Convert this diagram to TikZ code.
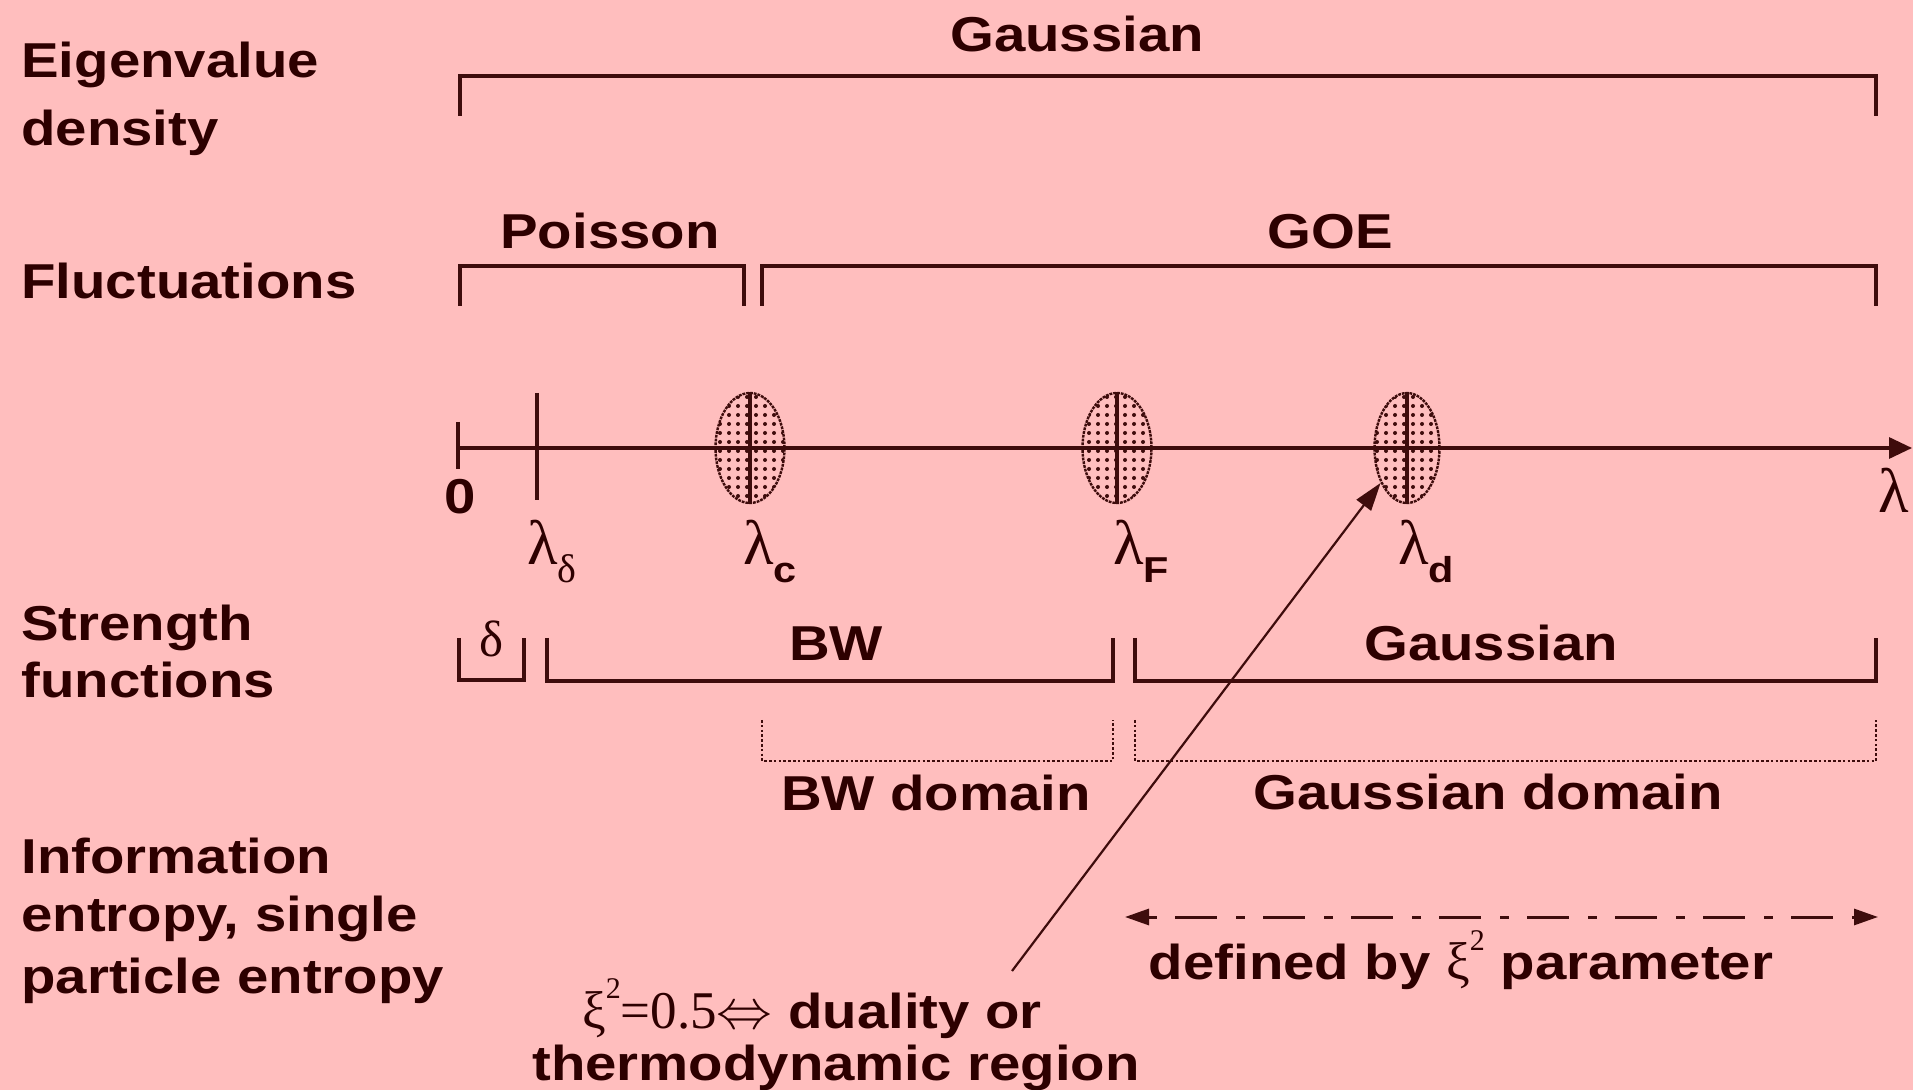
\documentclass[tikz,border=0pt]{standalone}
\usepackage{graphicx}
\usepackage{fontspec}
\setmainfont{Liberation Sans}
\newfontfamily\labfont{Liberation Sans}[FakeStretch=1.15]
\newfontfamily\grkfont{Liberation Serif}
\usetikzlibrary{arrows.meta,patterns.meta,shapes.geometric}
\definecolor{bgc}{RGB}{255,190,190}
\definecolor{lnc}{RGB}{62,12,12}
\definecolor{txc}{RGB}{45,0,0}
\newcommand\lamsym{{\grkfont\mdseries\fontsize{31.5}{34}\selectfont λ}}
\newcommand\subsf[1]{\raisebox{-9pt}{\labfont\bfseries\fontsize{18}{20}\selectfont #1}}
\begin{document}
\begin{tikzpicture}[x=0.5pt,y=-0.5pt,
  lab/.style={inner sep=0pt, text=txc, font=\labfont\bfseries\fontsize{24.5}{29}\selectfont},
  sym/.style={inner sep=0pt, text=txc},
  brk/.style={draw=lnc, line width=1.6pt, line join=miter},
  dbrk/.style={draw=lnc, line width=1.1pt, dash pattern=on 1.3pt off 1.1pt},
  ell/.style={ellipse, minimum width=34.5pt, minimum height=55pt, inner sep=0pt,
    draw=lnc, line width=1.2pt, dash pattern=on 1.4pt off 0.5pt,
    pattern={Dots[distance=4.5pt,radius=1pt]}, pattern color=lnc},
  cut/.style={draw=lnc, line width=1.6pt}
]
\fill[bgc] (0,0) rectangle (1913,1090);
\useasboundingbox (0,0) rectangle (1913,1090);

% left column
\node[lab, anchor=base west] (ev1) at (21,78) {Eigenvalue};
\node[lab, anchor=base west] (ev2) at (21,146) {density};
\node[lab, anchor=base west] (fl) at (21,299) {Fluctuations};
\node[lab, anchor=base west] (sf1) at (21,641) {Strength};
\node[lab, anchor=base west] (sf2) at (21,698) {functions};
\node[lab, anchor=base west] (ie1) at (21,873) {Information};
\node[lab, anchor=base west] (ie2) at (21,931) {entropy, single};
\node[lab, anchor=base west] (ie3) at (21,993) {particle entropy};

% brackets
\draw[brk] (460,116) -- (460,76) -- (1876,76) -- (1876,116);
\node[lab, anchor=base] (gaus) at (1077,52) {Gaussian};
\draw[brk] (460,306) -- (460,266) -- (744,266) -- (744,306);
\node[lab, anchor=base] (pois) at (610,249) {Poisson};
\draw[brk] (762,306) -- (762,266) -- (1876,266) -- (1876,306);
\node[lab, anchor=base] (goe) at (1330,249) {GOE};

\draw[brk] (459,638) -- (459,680) -- (524,680) -- (524,638);
\node[sym, anchor=base] (dl) at (492,657) {\grkfont\fontsize{25.5}{28}\selectfont δ};
\draw[brk] (547,638) -- (547,681) -- (1113,681) -- (1113,638);
\node[lab, anchor=base] (bw) at (836,661) {BW};
\draw[brk] (1135,638) -- (1135,681) -- (1876,681) -- (1876,638);
\node[lab, anchor=base] (gs) at (1491,661) {Gaussian};

\draw[dbrk] (762,720) -- (762,761) -- (1113,761) -- (1113,720);
\node[lab, anchor=base] (bwd) at (936,811) {BW domain};
\draw[dbrk] (1135,720) -- (1135,761) -- (1876,761) -- (1876,720);
\node[lab, anchor=base] (gd) at (1488,810) {Gaussian domain};

% axis
\coordinate (ax0) at (458,448);
\coordinate (ax1) at (1912,448);
\draw[draw=lnc, line width=1.6pt, -{Triangle[length=11.5pt,width=10.5pt]}] (ax0) -- (ax1);
\draw[cut] (458,422) -- (458,469);
\draw[cut] (537,393) -- (537,500);
\node[ell] (lc) at (750,448) {};
\node[ell] (lf) at (1117,448) {};
\node[ell, minimum width=32.5pt] (ld) at (1407,448) {};
\draw[cut] (lc.north) -- (lc.south);
\draw[cut] (lf.north) -- (lf.south);
\draw[cut] (ld.north) -- (ld.south);

\node[lab, anchor=base] (zero) at (460,514) {0};
\node[sym, anchor=base west] (lamd) at (527,565) {\lamsym\raisebox{-9pt}{\grkfont\fontsize{20}{22}\selectfont δ}};
\node[sym, anchor=base west] (lamc) at (743,565) {\lamsym\subsf{c}};
\node[sym, anchor=base west] (lamf) at (1113,565) {\lamsym\subsf{F}};
\node[sym, anchor=base west] (lamdd) at (1398,565) {\lamsym\subsf{d}};
\node[sym, anchor=base west] (lamx) at (1878,513) {\lamsym};

% xi annotation
\node[lab, anchor=base] (xi1) at (812,1028) {{\grkfont\mdseries\fontsize{26.5}{30}\selectfont ξ\raisebox{15pt}{\fontsize{15}{16}\selectfont 2}=0.5}{\mdseries\fontsize{24.88}{30}\selectfont\scalebox{1.12}{$\Leftrightarrow$}} duality or};
\node[lab, anchor=base] (xi2) at (836,1080) {thermodynamic region};
\coordinate (xiarr) at (1012,971);
\draw[draw=lnc, line width=1.1pt, -{Triangle[length=14pt,width=9pt]}] (xiarr) -- (ld);

% defined by
\coordinate (dal) at (1125,917);
\coordinate (dar) at (1878,917);
\draw[draw=lnc, line width=1.5pt, dash pattern=on 4.5pt off 9pt on 21pt off 9.5pt,
  {Triangle[length=12pt,width=8pt]}-{Triangle[length=12pt,width=8pt]}] (dal) -- (dar);
\node[lab, anchor=base] (defd) at (1461,979) {defined by {\grkfont\mdseries\fontsize{26.5}{30}\selectfont ξ\raisebox{14.5pt}{\fontsize{15}{16}\selectfont 2}} parameter};
\end{tikzpicture}
\end{document}
